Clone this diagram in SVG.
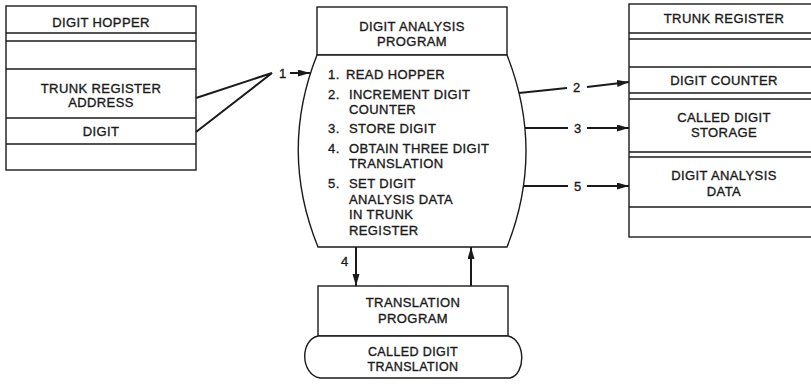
<svg xmlns="http://www.w3.org/2000/svg" width="811" height="390" viewBox="0 0 811 390">
<defs>
<style>
text{font-family:"Liberation Sans",Arial,sans-serif;font-size:13px;letter-spacing:0.4px;fill:#1a1a1a;stroke:#1a1a1a;stroke-width:0.35}
.c{text-anchor:middle}
.sm{font-size:12.5px}
.box{fill:#fff;stroke:#1a1a1a;stroke-width:1.4}
.ln{stroke:#1a1a1a;stroke-width:1.4;fill:none}
.cn{stroke:#1a1a1a;stroke-width:2;fill:none}
</style>
<marker id="ah" markerUnits="userSpaceOnUse" markerWidth="13" markerHeight="8" refX="12" refY="3.5" orient="auto">
<path d="M0,0 L12,3.5 L0,7 z" fill="#1a1a1a"/>
</marker>
</defs>
<rect width="811" height="390" fill="#fff"/>

<g id="digit-hopper">
<rect class="box" x="6" y="6" width="190" height="164"/>
<line class="ln" x1="6" y1="33" x2="196" y2="33"/>
<line class="ln" x1="6" y1="41" x2="196" y2="41"/>
<line class="ln" x1="6" y1="69" x2="196" y2="69"/>
<line class="ln" x1="6" y1="118" x2="196" y2="118"/>
<line class="ln" x1="6" y1="144" x2="196" y2="144"/>
<text class="c" x="101" y="26.5">DIGIT HOPPER</text>
<text class="c" x="101" y="92.5">TRUNK REGISTER</text>
<text class="c" x="101" y="106.5">ADDRESS</text>
<text class="c" x="101" y="135.5">DIGIT</text>
</g>

<g id="digit-analysis-program">
<rect class="box" x="317" y="7" width="190" height="48"/>
<path class="box" d="M317,55 Q279,151 318,247 L507,247 Q545,151 507,55 Z"/>
<text class="c" x="412" y="30.5">DIGIT ANALYSIS</text>
<text class="c" x="412" y="45.5">PROGRAM</text>
<text x="328" y="78.5">1.</text><text x="346" y="78.5">READ HOPPER</text>
<text x="328" y="98.5">2.</text><text x="349" y="98.5">INCREMENT DIGIT</text>
<text x="349" y="113.5">COUNTER</text>
<text x="328" y="132.5">3.</text><text x="349" y="132.5">STORE DIGIT</text>
<text x="328" y="152.5">4.</text><text x="349" y="152.5">OBTAIN THREE DIGIT</text>
<text x="349" y="167.5">TRANSLATION</text>
<text x="328" y="187.5">5.</text><text x="349" y="187.5">SET DIGIT</text>
<text x="349" y="203.5">ANALYSIS DATA</text>
<text x="349" y="219">IN TRUNK</text>
<text x="349" y="234.5">REGISTER</text>
</g>

<g id="trunk-register">
<rect class="box" x="629" y="4" width="190" height="233"/>
<line class="ln" x1="629" y1="33" x2="811" y2="33"/>
<line class="ln" x1="629" y1="39" x2="811" y2="39"/>
<line class="ln" x1="629" y1="67" x2="811" y2="67"/>
<line class="ln" x1="629" y1="93" x2="811" y2="93"/>
<line class="ln" x1="629" y1="99" x2="811" y2="99"/>
<line class="ln" x1="629" y1="152" x2="811" y2="152"/>
<line class="ln" x1="629" y1="157" x2="811" y2="157"/>
<line class="ln" x1="629" y1="207" x2="811" y2="207"/>
<text class="c" x="724" y="22.5">TRUNK REGISTER</text>
<text class="c" x="724" y="84.5">DIGIT COUNTER</text>
<text class="c" x="724" y="122">CALLED DIGIT</text>
<text class="c" x="724" y="137">STORAGE</text>
<text class="c" x="724" y="179.5">DIGIT ANALYSIS</text>
<text class="c" x="724" y="195.5">DATA</text>
</g>

<g id="translation-program">
<rect class="box" x="318" y="286" width="190" height="50"/>
<text class="c" x="413" y="306.5">TRANSLATION</text>
<text class="c" x="413" y="322.5">PROGRAM</text>
</g>

<g id="called-digit-translation">
<path class="box" d="M318,336 L508,336 C526,340 526,374 510,378 L320,378 C300,374 300,340 318,336 Z"/>
<text class="c sm" x="413" y="356">CALLED DIGIT</text>
<text class="c sm" x="413" y="370.5">TRANSLATION</text>
</g>

<g id="connectors">
<polyline class="cn" points="196,98 272,73 196,132"/>
<text x="279" y="77.5">1</text>
<line class="cn" x1="290" y1="73" x2="310" y2="73" marker-end="url(#ah)"/>
<line class="cn" x1="519" y1="93" x2="567" y2="88"/>
<text x="573" y="91.5">2</text>
<line class="cn" x1="587" y1="87" x2="629" y2="82" marker-end="url(#ah)"/>
<line class="cn" x1="525" y1="128" x2="568" y2="128"/>
<text x="574" y="132.5">3</text>
<line class="cn" x1="587" y1="128" x2="629" y2="128" marker-end="url(#ah)"/>
<line class="cn" x1="523" y1="186" x2="568" y2="186"/>
<text x="574" y="190.5">5</text>
<line class="cn" x1="587" y1="186" x2="629" y2="186" marker-end="url(#ah)"/>
<line class="cn" x1="356" y1="247" x2="356" y2="286" marker-end="url(#ah)"/>
<text x="341" y="265.5">4</text>
<line class="cn" x1="471" y1="286" x2="471" y2="247" marker-end="url(#ah)"/>
</g>
</svg>
